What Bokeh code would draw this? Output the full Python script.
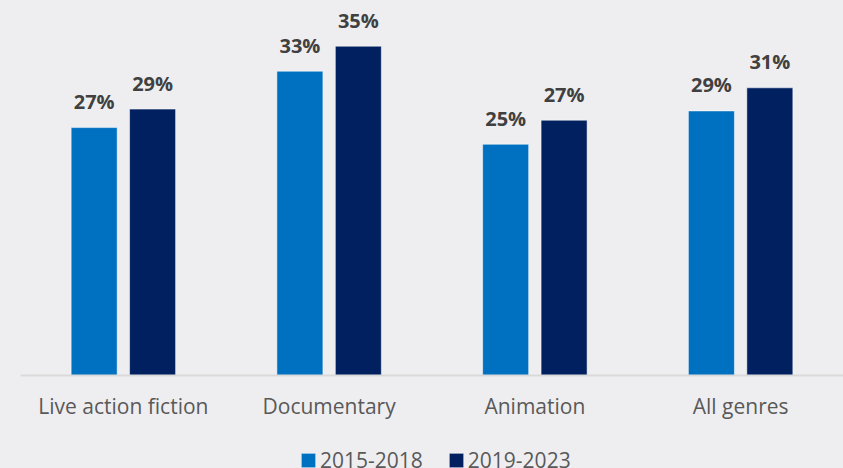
from bokeh.plotting import figure
from bokeh.models import FactorRange, Range1d, Legend, LegendItem, ColumnDataSource
from bokeh.transform import dodge
from bokeh.core.properties import value
from bokeh.embed import file_html
from bokeh.resources import INLINE

categories = ["Live action fiction", "Documentary", "Animation", "All genres"]
series_names = ["2015-2018", "2019-2023"]
values_2015_2018 = [26.8, 32.9, 25.0, 28.6]
values_2019_2023 = [28.8, 35.6, 27.6, 31.1]
labels_2015_2018 = ["27%", "33%", "25%", "29%"]
labels_2019_2023 = ["29%", "35%", "27%", "31%"]
colors = ["#0070C0", "#002060"]

BG = "#EEEEF0"

src = ColumnDataSource(data=dict(
    cat=categories,
    v1=values_2015_2018, v2=values_2019_2023,
    l1=labels_2015_2018, l2=labels_2019_2023,
))

PX = 9.25  # pixels per percentage point
p = figure(
    x_range=FactorRange(*categories, range_padding=0, factor_padding=0),
    y_range=Range1d(-93 / PX, 375 / PX),
    width=843, height=468,
    output_backend="svg", toolbar_location=None, title=None,
    y_axis_location=None,
    min_border_left=20, min_border_right=0, min_border_top=0, min_border_bottom=0,
    background_fill_color=BG, border_fill_color=BG,
)
p.outline_line_color = None
p.xgrid.visible = False
p.ygrid.visible = False

off = 0.142
w = 0.2236
r1 = p.vbar(x=dodge("cat", -off, range=p.x_range), top="v1", bottom=0, width=w, source=src,
            fill_color=colors[0], line_color="white", line_alpha=0.5, line_width=1)
r2 = p.vbar(x=dodge("cat", off, range=p.x_range), top="v2", bottom=0, width=w, source=src,
            fill_color=colors[1], line_color="white", line_alpha=0.5, line_width=1)

for col, lab, d in (("v1", "l1", -off), ("v2", "l2", off)):
    p.text(x=dodge("cat", d, range=p.x_range), y=col, text=lab, source=src,
           text_align="center", text_baseline="alphabetic", y_offset=-26,
           text_font=value("Open Sans"), text_font_style="bold",
           text_font_size="20px", text_color="#404040")

ax = p.xaxis[0]
ax.fixed_location = 0
ax.axis_line_color = "#D9D9D9"
ax.axis_line_width = 2
ax.major_tick_line_color = None
ax.minor_tick_line_color = None
ax.major_tick_out = 0
ax.major_tick_in = 0
ax.major_label_text_font = "Open Sans"
ax.major_label_text_font_size = "21px"
ax.major_label_text_color = "#595959"
ax.major_label_standoff = 16

legend = Legend(
    items=[LegendItem(label=series_names[0], renderers=[r1]),
           LegendItem(label=series_names[1], renderers=[r2])],
    orientation="horizontal", location=(279, -6),
    glyph_width=18, glyph_height=18, label_standoff=3, spacing=24,
    label_text_font="Open Sans", label_text_font_size="21px",
    label_text_color="#595959", padding=0, margin=0,
    background_fill_alpha=0, border_line_color=None,
)
p.add_layout(legend, "center")

html = file_html(p, INLINE)
html = html.replace("</head>", "<style>html,body{margin:0;padding:0;background:%s;}</style></head>" % BG, 1)
open("out.html", "w").write(html)
